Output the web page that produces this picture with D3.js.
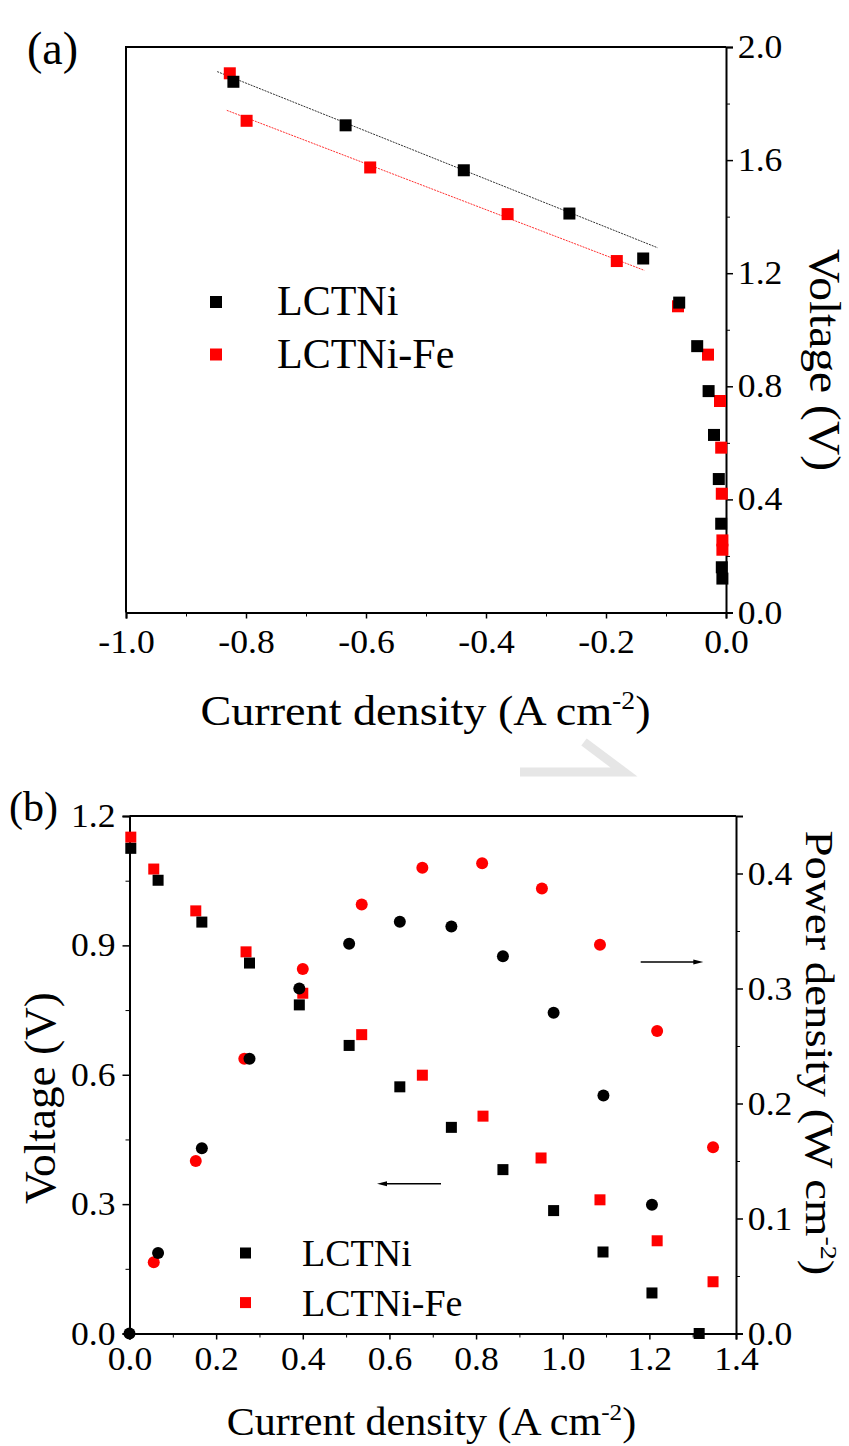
<!DOCTYPE html>
<html>
<head>
<meta charset="utf-8">
<script src="https://cdn.jsdelivr.net/npm/d3@7"></script>
<style>
    body { margin: 0; background: #fff; }
    svg { display: block; font-family: "Liberation Serif", "Times New Roman", serif; }
    .axis path, .axis line { stroke: #000; }
    .axis text { font-family: "Liberation Serif", serif; font-size: 33px; fill: #000; }
</style>
</head>
<body>
<div id="chart"></div>
<script>

// ---- panel (a): polarisation data, current density (A cm-2) vs voltage (V)
let seriesNames = ['LCTNi', 'LCTNi-Fe'];
let seriesColors = ['#000000', '#ff0000'];

let aCurrentLCTNi = [-0.821, -0.634, -0.437, -0.261, -0.138, -0.078, -0.048, -0.029, -0.020, -0.012, -0.008, -0.007, -0.006];
let aVoltageLCTNi = [1.877, 1.723, 1.564, 1.411, 1.252, 1.096, 0.942, 0.783, 0.628, 0.472, 0.314, 0.160, 0.120];
let aCurrentFe = [-0.827, -0.799, -0.593, -0.364, -0.182, -0.080, -0.030, -0.010, -0.008, -0.007, -0.006, -0.006];
let aVoltageFe = [1.907, 1.739, 1.574, 1.409, 1.243, 1.083, 0.912, 0.748, 0.583, 0.420, 0.255, 0.222];

// linear fits drawn as dotted lines (end points)
let aFitLCTNi = [[-0.848, 1.913], [-0.114, 1.290]];
let aFitFe = [[-0.832, 1.776], [-0.136, 1.210]];

let aXTicks = [-1.0, -0.8, -0.6, -0.4, -0.2, 0.0];
let aYTicks = [0.0, 0.4, 0.8, 1.2, 1.6, 2.0];

// ---- panel (b): I-V and I-P curves
let bCurrentLCTNi = [0.003, 0.066, 0.167, 0.277, 0.392, 0.507, 0.624, 0.743, 0.862, 0.979, 1.093, 1.206, 1.315];
let bVoltageLCTNi = [1.125, 1.051, 0.954, 0.859, 0.762, 0.668, 0.572, 0.478, 0.380, 0.285, 0.189, 0.094, 0.0];
let bPowerCurrentLCTNi = [0.0, 0.066, 0.167, 0.277, 0.392, 0.507, 0.624, 0.743, 0.862, 0.979, 1.094, 1.206];
let bPowerLCTNi = [0.0, 0.070, 0.161, 0.239, 0.300, 0.339, 0.358, 0.354, 0.328, 0.279, 0.207, 0.112];

let bCurrentFe = [0.003, 0.056, 0.153, 0.269, 0.400, 0.536, 0.676, 0.816, 0.950, 1.086, 1.218, 1.347];
let bVoltageFe = [1.151, 1.077, 0.980, 0.885, 0.789, 0.693, 0.599, 0.504, 0.407, 0.310, 0.215, 0.120];
let bPowerCurrentFe = [0.056, 0.153, 0.265, 0.400, 0.536, 0.676, 0.814, 0.952, 1.086, 1.218, 1.347];
let bPowerFe = [0.062, 0.150, 0.239, 0.317, 0.373, 0.405, 0.409, 0.387, 0.338, 0.263, 0.162];

let bXTicks = [0.0, 0.2, 0.4, 0.6, 0.8, 1.0, 1.2, 1.4];
let bYTicks = [0.0, 0.3, 0.6, 0.9, 1.2];
let bPTicks = [0.0, 0.1, 0.2, 0.3, 0.4];


let fmt = d => d.toFixed(1);
let zip = (xs, ys) => xs.map((x, i) => [x, ys[i]]);

let svg = d3.select("#chart").append("svg")
    .attr("width", 849)
    .attr("height", 1446);

svg.append("rect").attr("width", 849).attr("height", 1446).attr("fill", "#fff");

// faint watermark fragment between the panels
svg.append("path")
    .attr("d", "M520,772 L624,772 L584,742")
    .attr("fill", "none")
    .attr("stroke", "#e6e6e6")
    .attr("stroke-width", 9);

// helper for adding a major + minor axis pair
function addAxis(g, axisFn, scale, ticks, minor, size, pad, fmtFn) {
    g.append("g").attr("class", "axis")
        .call(axisFn(scale).tickValues(minor).tickSize(4).tickFormat(""))
        .call(s => s.select(".domain").remove());
    let ax = g.append("g").attr("class", "axis")
        .call(axisFn(scale).tickValues(ticks).tickSize(size).tickPadding(pad).tickFormat(fmtFn));
    ax.select(".domain").attr("stroke-width", 2);
    ax.selectAll(".tick line").attr("stroke-width", 1.5);
    // the original lettering is slightly wider than Times
    ax.selectAll(".tick text").attr("transform", "scale(1.08,1)");
    return ax;
}

function squares(g, data, x, y, color, s) {
    g.selectAll(null).data(data).enter().append("rect")
        .attr("x", d => x(d[0]) - s / 2)
        .attr("y", d => y(d[1]) - s / 2)
        .attr("width", s).attr("height", s)
        .attr("fill", color);
}

function circles(g, data, x, y, color, r) {
    g.selectAll(null).data(data).enter().append("circle")
        .attr("cx", d => x(d[0]))
        .attr("cy", d => y(d[1]))
        .attr("r", r)
        .attr("fill", color);
}

function title(g, x, y, rot, size, sx, main, sup, tail) {
    let t = g.append("text")
        .attr("transform", `translate(${x},${y}) rotate(${rot}) scale(${sx},1)`)
        .attr("text-anchor", "middle")
        .style("font-size", size + "px")
        .text(main);
    if (sup) {
        t.append("tspan").attr("dy", -size * 0.38).style("font-size", (size * 0.6) + "px").text(sup);
        t.append("tspan").attr("dy", size * 0.38).text(tail);
    }
}

/* * * * * * panel (a) * * * * * */
let ga = svg.append("g");
let xA = d3.scaleLinear().domain([-1, 0]).range([126, 726]);
let yA = d3.scaleLinear().domain([0, 2]).range([612.5, 47]);

// frame top / left
ga.append("path")
    .attr("d", `M${xA(0)},${yA(2)} L${xA(-1)},${yA(2)} L${xA(-1)},${yA(0)}`)
    .attr("fill", "none").attr("stroke", "#000").attr("stroke-width", 2);

let aXMinor = d3.range(-0.9, 0, 0.2);
let aYMinor = d3.range(0.2, 2, 0.4);
addAxis(ga.append("g").attr("transform", `translate(0,${yA(0)})`), d3.axisBottom, xA, aXTicks, aXMinor, 6, 11, fmt);
addAxis(ga.append("g").attr("transform", `translate(${xA(0)},0)`), d3.axisRight, yA, aYTicks, aYMinor, 7, 4, fmt);

let fitLine = d3.line().x(d => xA(d[0])).y(d => yA(d[1]));
ga.append("path").attr("d", fitLine(aFitLCTNi))
    .attr("fill", "none").attr("stroke", "#333").attr("stroke-width", 1).attr("stroke-dasharray", "2,1");
ga.append("path").attr("d", fitLine(aFitFe))
    .attr("fill", "none").attr("stroke", "#ff3030").attr("stroke-width", 1).attr("stroke-dasharray", "2,1");

squares(ga, zip(aCurrentFe, aVoltageFe), xA, yA, seriesColors[1], 12);
squares(ga, zip(aCurrentLCTNi, aVoltageLCTNi), xA, yA, seriesColors[0], 12);

// legend (a)
seriesNames.forEach((name, i) => {
    ga.append("rect").attr("x", 210).attr("y", 296 + i * 52.5).attr("width", 12).attr("height", 12)
        .attr("fill", seriesColors[i]);
    ga.append("text").attr("x", 277).attr("y", 315 + i * 53.3)
        .style("font-size", "42px").text(name);
});

ga.append("text").attr("x", 27).attr("y", 64).style("font-size", "46px").text("(a)");
title(ga, 425.5, 725, 0, 42, 1.1, "Current density (A cm", "-2", ")");
title(ga, 810, 360, 90, 44, 1.08, "Voltage (V)");

/* * * * * * panel (b) * * * * * */
let gb = svg.append("g");
let xB = d3.scaleLinear().domain([0, 1.4]).range([129.5, 736]);
let yB = d3.scaleLinear().domain([0, 1.2]).range([1333.5, 816]);
let pB = d3.scaleLinear().domain([0, 0.45]).range([1333.5, 816]);

gb.append("line")
    .attr("x1", xB(0)).attr("x2", xB(1.4)).attr("y1", yB(1.2)).attr("y2", yB(1.2))
    .attr("stroke", "#000").attr("stroke-width", 2);

addAxis(gb.append("g").attr("transform", `translate(0,${yB(0)})`), d3.axisBottom, xB, bXTicks, d3.range(0.1, 1.4, 0.2), 6, 7, fmt);
addAxis(gb.append("g").attr("transform", `translate(${xB(0)},0)`), d3.axisLeft, yB, bYTicks, d3.range(0.15, 1.2, 0.3), 7, 6, fmt);
addAxis(gb.append("g").attr("transform", `translate(${xB(1.4)},0)`), d3.axisRight, pB, bPTicks, d3.range(0.05, 0.45, 0.1), 7, 4, fmt);

squares(gb, zip(bCurrentFe, bVoltageFe), xB, yB, seriesColors[1], 11);
squares(gb, zip(bCurrentLCTNi, bVoltageLCTNi), xB, yB, seriesColors[0], 11);
circles(gb, zip(bPowerCurrentFe, bPowerFe), xB, pB, seriesColors[1], 6);
circles(gb, zip(bPowerCurrentLCTNi, bPowerLCTNi), xB, pB, seriesColors[0], 6);

// arrows pointing to the matching axis
function arrow(g, x1, x2, y) {
    let dir = Math.sign(x2 - x1);
    g.append("line").attr("x1", x1).attr("x2", x2 - dir * 6).attr("y1", y).attr("y2", y)
        .attr("stroke", "#000").attr("stroke-width", 1.5);
    g.append("path")
        .attr("d", `M${x2},${y} L${x2 - dir * 10},${y - 2.5} L${x2 - dir * 10},${y + 2.5} Z`)
        .attr("fill", "#000");
}
arrow(gb, 441, 377, 1183.7);
arrow(gb, 640.7, 703.3, 962);

// legend (b)
seriesNames.forEach((name, i) => {
    gb.append("rect").attr("x", 240).attr("y", 1247.5 + i * 49.6).attr("width", 11).attr("height", 11)
        .attr("fill", seriesColors[i]);
    gb.append("text").attr("x", 302).attr("y", 1266 + i * 49.5)
        .style("font-size", "38px").text(name);
});

gb.append("text").attr("x", 9).attr("y", 821).style("font-size", "42px").text("(b)");
title(gb, 431.5, 1435, 0, 40, 1.05, "Current density (A cm", "-2", ")");
title(gb, 55, 1098, -90, 44, 1.03, "Voltage (V)");
title(gb, 806, 1053, 90, 39, 1.2, "Power density (W cm", "-2", ")");

</script>
</body>
</html>
